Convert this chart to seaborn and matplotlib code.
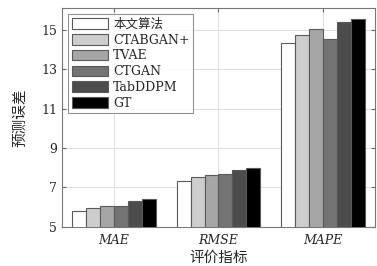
import pandas as pd
import numpy as np
import matplotlib.pyplot as plt
import seaborn as sns

# 数据
metrics = ["MAE", "RMSE", "MAPE"]
methods = ["本文算法", "CTABGAN+", "TVAE", "CTGAN", "TabDDPM", "GT"]
mae = [5.81, 5.98, 6.07, 6.07, 6.32, 6.40]
rmse = [7.33, 7.54, 7.62, 7.69, 7.89, 8.01]
mape = [14.30, 14.71, 15.03, 14.54, 15.41, 15.54]
colors = ["#ffffff", "#cdcdcd", "#a6a6a6", "#747474", "#4c4c4c", "#000000"]

rows = []
for m, vals in zip(metrics, [mae, rmse, mape]):
    for meth, v in zip(methods, vals):
        rows.append({"metric": m, "method": meth, "value": v})
df = pd.DataFrame(rows)

sns.set_style("white")
plt.rcParams['font.family'] = ['DejaVu Serif', 'Noto Sans CJK SC']
cjk = ['Noto Sans CJK SC', 'DejaVu Serif']

fig, ax = plt.subplots(figsize=(3.77, 2.66), dpi=100)
fig.subplots_adjust(left=0.164, right=0.995, top=0.97, bottom=0.147)

sns.barplot(data=df, x="metric", y="value", hue="method", palette=colors,
            edgecolor="#5a5a5a", linewidth=0.8, width=0.8, ax=ax, zorder=3)

ax.set_ylim(5, 16.1)
ax.set_xlim(-0.5, 2.5)
ax.set_yticks([5, 7, 9, 11, 13, 15])
ax.set_xticks(range(3))
ax.set_xticklabels(metrics, fontstyle="italic", fontsize=9)
ax.tick_params(axis="y", labelsize=9, direction="in", length=3, right=True, left=True,
               color="#666666")
ax.tick_params(axis="x", direction="in", length=3, top=True, bottom=True, color="#666666",
               pad=5)
ax.grid(True, color="#dddddd", linewidth=0.7, zorder=0)
ax.set_axisbelow(True)
for s in ax.spines.values():
    s.set_color("#777777")
    s.set_linewidth(0.8)

ax.set_xlabel("评价指标", family=cjk, fontsize=10.5, labelpad=3)
ax.set_ylabel("预测误差", family=cjk, fontsize=10.5, labelpad=10)

leg = ax.legend(loc="upper left", frameon=True, fancybox=False,
                borderpad=0.3, labelspacing=0.22, handlelength=2.9, handleheight=0.9,
                handletextpad=0.4, borderaxespad=0.5,
                prop={"family": ['DejaVu Serif', 'Noto Sans CJK SC'], "size": 9})
leg.get_frame().set_edgecolor("#777777")
leg.get_frame().set_linewidth(0.8)

plt.savefig("out.png", dpi=100)
